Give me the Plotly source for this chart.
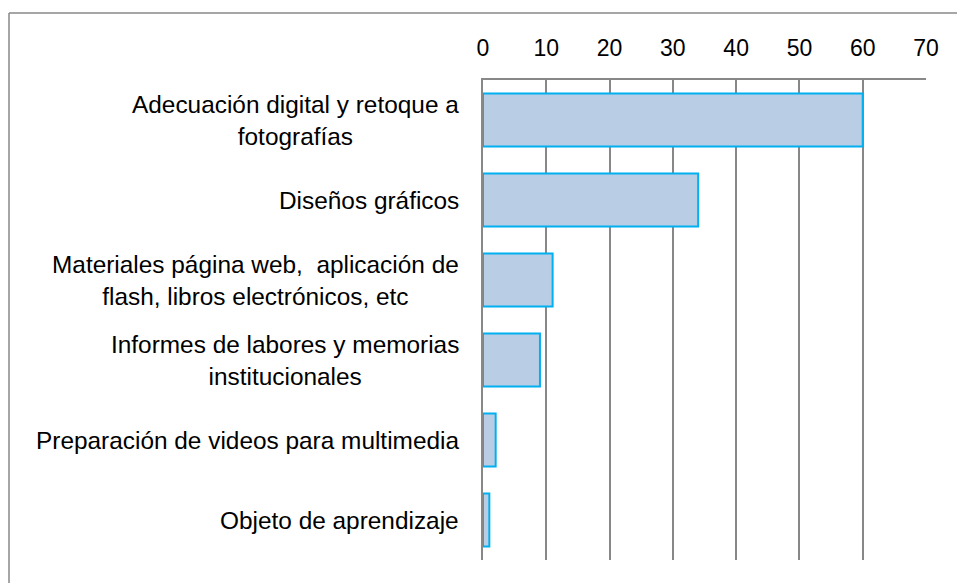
import plotly.graph_objects as go

categories = [
    "Adecuación digital y retoque a<br>fotografías",
    "Diseños gráficos",
    "Materiales página web,  aplicación de<br>flash, libros electrónicos, etc",
    "Informes de labores y memorias<br>institucionales",
    "Preparación de videos para multimedia",
    "Objeto de aprendizaje",
]
values = [60, 34, 11, 9, 2, 1]
tick_vals = [0, 10, 20, 30, 40, 50, 60, 70]

W, H = 957, 583
L, R, T, B = 483, 31, 80, 23
FONT = "Liberation Sans, Arial, sans-serif"
FS = 24.4

fig = go.Figure()
fig.add_trace(go.Bar(
    y=categories, x=values, orientation="h",
    marker=dict(color="#B9CDE5", line=dict(color="#00B0F0", width=2)),
    width=0.66,
))

pw = W - L - R
ph = H - T - B
annotations = []
for c in categories:
    annotations.append(dict(
        x=-(22) / pw, xref="paper", y=c, yref="y",
        text=c, showarrow=False, xanchor="right", align="center",
        font=dict(family=FONT, size=FS, color="#000000"),
    ))

fig.update_layout(
    width=W, height=H,
    margin=dict(l=L, r=R, t=T, b=B),
    paper_bgcolor="white", plot_bgcolor="white",
    showlegend=False,
    bargap=0.34,
    annotations=annotations,
    font=dict(family=FONT, size=FS, color="#000000"),
    xaxis=dict(
        side="top", range=[0, 70], tickvals=tick_vals,
        showgrid=True, gridcolor="#888888", gridwidth=1.5,
        showline=True, linecolor="#888888", linewidth=1.5,
        zeroline=False, ticks="", ticklabelstandoff=13,
        tickfont=dict(family=FONT, size=23, color="#000000"),
        fixedrange=True,
    ),
    yaxis=dict(
        autorange="reversed", showticklabels=False, ticks="",
        showline=True, linecolor="#888888", linewidth=1.5,
        showgrid=False, zeroline=False, fixedrange=True,
    ),
    shapes=[
        dict(type="line", xref="paper", yref="paper",
             x0=(9 - L) / pw, x1=(W + 5 - L) / pw,
             y0=(H - B - 13) / ph, y1=(H - B - 13) / ph,
             line=dict(color="#888888", width=1.5)),
        dict(type="line", xref="paper", yref="paper",
             x0=(9 - L) / pw, x1=(9 - L) / pw,
             y0=(H - B - 13) / ph, y1=-(B + 5) / ph,
             line=dict(color="#888888", width=1.5)),
    ],
)

fig.write_html(
    "out.html",
    config=dict(displayModeBar=False),
    post_script="document.body.style.margin='0px';",
)
